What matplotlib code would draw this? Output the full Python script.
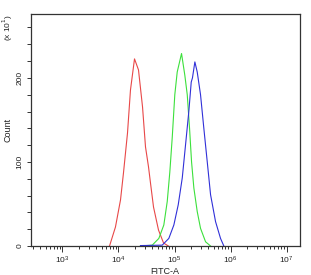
import numpy as np
import matplotlib
matplotlib.use("Agg")
import matplotlib.pyplot as plt
from matplotlib.ticker import FixedLocator, FuncFormatter, LogLocator, NullFormatter

# log10(FITC-A) positions and counts
red_x = [3.84, 3.946, 4.036, 4.089, 4.161, 4.214, 4.286, 4.357, 4.429, 4.482, 4.536, 4.571, 4.625, 4.714, 4.804, 4.89]
red_y = [0, 22.6, 54.8, 86.9, 134.5, 185.7, 222.6, 209.5, 165.5, 117.9, 94, 75, 46.4, 19, 3.6, 0]

green_x = [4.39, 4.602, 4.72, 4.809, 4.87, 4.916, 4.959, 5.005, 5.048, 5.125, 5.184, 5.227, 5.268, 5.304, 5.345, 5.405, 5.464, 5.554, 5.643]
green_y = [0, 1, 9, 25, 53, 88, 129, 180, 207, 229, 203, 180, 140, 100, 69, 41, 21, 5, 0]

blue_x = [4.393, 4.78, 4.898, 4.988, 5.066, 5.138, 5.196, 5.255, 5.298, 5.32, 5.363, 5.405, 5.464, 5.523, 5.584, 5.643, 5.732, 5.821, 5.88]
blue_y = [0.5, 1, 9, 25, 49, 81, 120, 160, 195, 200, 219, 207, 180, 140, 100, 61, 29, 9, 0]

plt.rcParams['font.family'] = ['Liberation Sans', 'DejaVu Sans']

fig = plt.figure(figsize=(3.11, 2.75), dpi=100)
ax = fig.add_axes([30.5/311, 29/275, 269/311, 232/275])

ax.plot(10**np.array(red_x), red_y, color='#e84848', lw=0.8)
ax.plot(10**np.array(green_x), green_y, color='#3ce03c', lw=0.8)
ax.plot(10**np.array(blue_x), blue_y, color='#3030d8', lw=0.8)

ax.set_xscale('log')
ax.set_xlim(10**2.43, 10**7.23)
ax.set_ylim(0, 276)

ax.xaxis.set_major_locator(LogLocator(base=10, numticks=10))
ax.xaxis.set_minor_locator(LogLocator(base=10, subs=np.arange(2, 10), numticks=20))
ax.xaxis.set_minor_formatter(NullFormatter())

ax.yaxis.set_major_locator(FixedLocator(np.arange(0, 261, 20)))
ax.yaxis.set_major_formatter(FuncFormatter(lambda v, p: str(int(v)) if int(v) % 100 == 0 else ""))

for s in ax.spines.values():
    s.set_color('#333333')
    s.set_linewidth(0.9)

ax.tick_params(axis='both', which='both', direction='out', color='#333333', width=0.7, labelsize=6, labelcolor='#222222')
ax.tick_params(axis='x', which='major', length=4, pad=2)
ax.tick_params(axis='x', which='minor', length=2.5)
ax.tick_params(axis='y', which='major', length=3, pad=2)
for lab in ax.get_yticklabels():
    lab.set_rotation(90)
    lab.set_va('center')

ax.set_xlabel('FITC-A', fontsize=6.5, color='#222222', labelpad=1)
ax.set_ylabel('Count', fontsize=6.5, color='#222222', labelpad=3)
fig.text(8/311, 1 - 28/275, r'(x 10$^{1}$)', rotation=90, fontsize=6, color='#222222', ha='center', va='center')

fig.savefig('out.png', dpi=100)
